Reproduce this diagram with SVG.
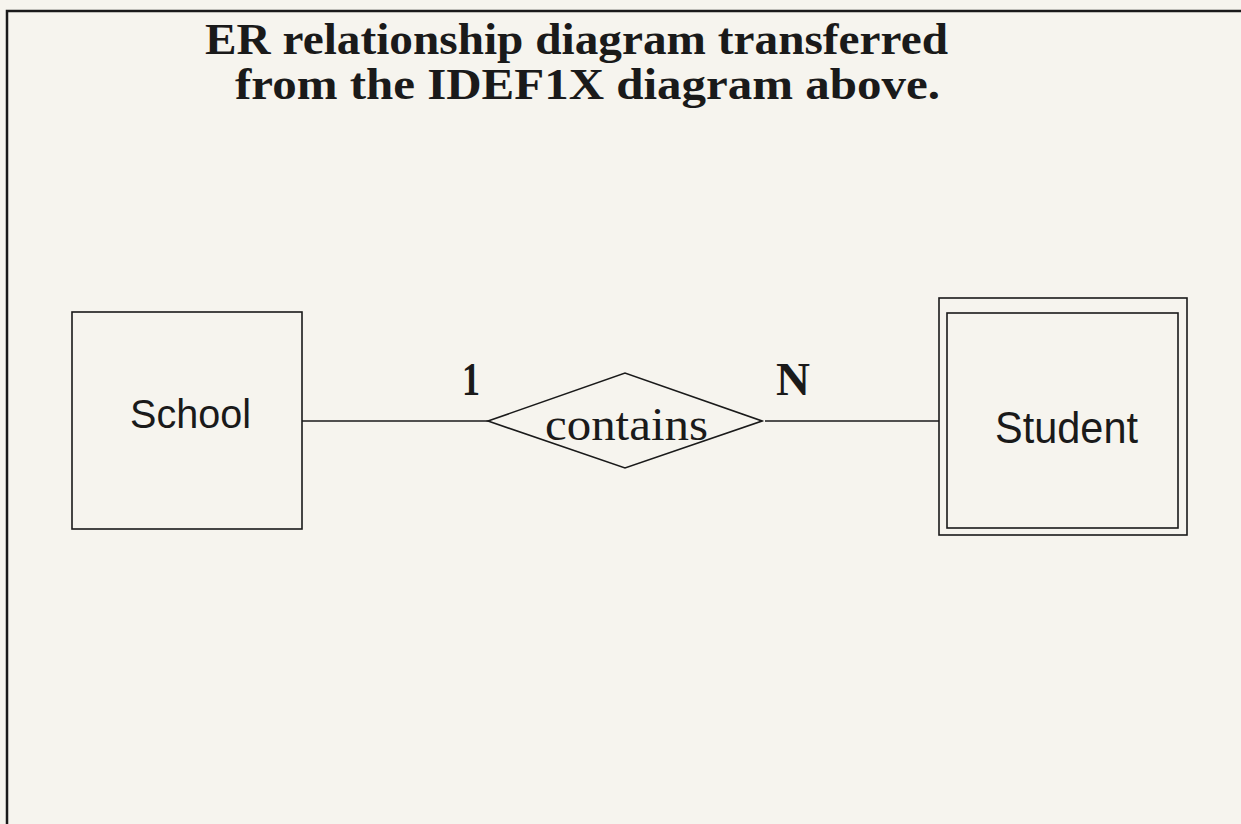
<svg xmlns="http://www.w3.org/2000/svg" width="1241" height="824" viewBox="0 0 1241 824">
<style>
.ln{stroke:#1a1a1a;stroke-width:1.6;fill:none}
.box{stroke:#1a1a1a;stroke-width:1.6;fill:none}
.sans{font-family:"Liberation Sans",Arial,sans-serif;fill:#1a1a1a}
.serif{font-family:"Liberation Serif","Times New Roman",serif;fill:#1a1a1a}
.title{font-size:44px;font-weight:bold}
.card{font-size:46px;font-weight:bold}
</style>
<rect x="0" y="0" width="1241" height="824" fill="#f6f4ee"/>
<g id="frame">
<path d="M7,824 V11 H1241" stroke="#1a1a1a" stroke-width="2.5" fill="none"/>
</g>
<g id="title">
<text class="serif title" x="205" y="54" textLength="743" lengthAdjust="spacingAndGlyphs">ER relationship diagram transferred</text>
<text class="serif title" x="235" y="99" textLength="705" lengthAdjust="spacingAndGlyphs">from the IDEF1X diagram above.</text>
</g>
<g id="connectors">
<line class="ln" x1="302" y1="421" x2="488" y2="421"/>
<line class="ln" x1="765" y1="421" x2="939" y2="421"/>
<text class="serif card" x="462" y="395" textLength="18" lengthAdjust="spacingAndGlyphs">1</text>
<text class="serif card" x="776" y="395" textLength="34" lengthAdjust="spacingAndGlyphs">N</text>
</g>
<g id="school">
<rect class="box" x="72" y="312" width="230" height="217"/>
<text class="sans" x="130" y="428" font-size="41" textLength="121" lengthAdjust="spacingAndGlyphs">School</text>
</g>
<g id="contains">
<polygon class="box" points="488,421 625,373 762,421 625,468"/>
<text class="serif" x="545" y="440" font-size="46" textLength="163" lengthAdjust="spacingAndGlyphs">contains</text>
</g>
<g id="student">
<rect class="box" x="939" y="298" width="248" height="237"/>
<rect class="box" x="947" y="313" width="231" height="215"/>
<text class="sans" x="995" y="443" font-size="44" textLength="143" lengthAdjust="spacingAndGlyphs">Student</text>
</g>
</svg>
